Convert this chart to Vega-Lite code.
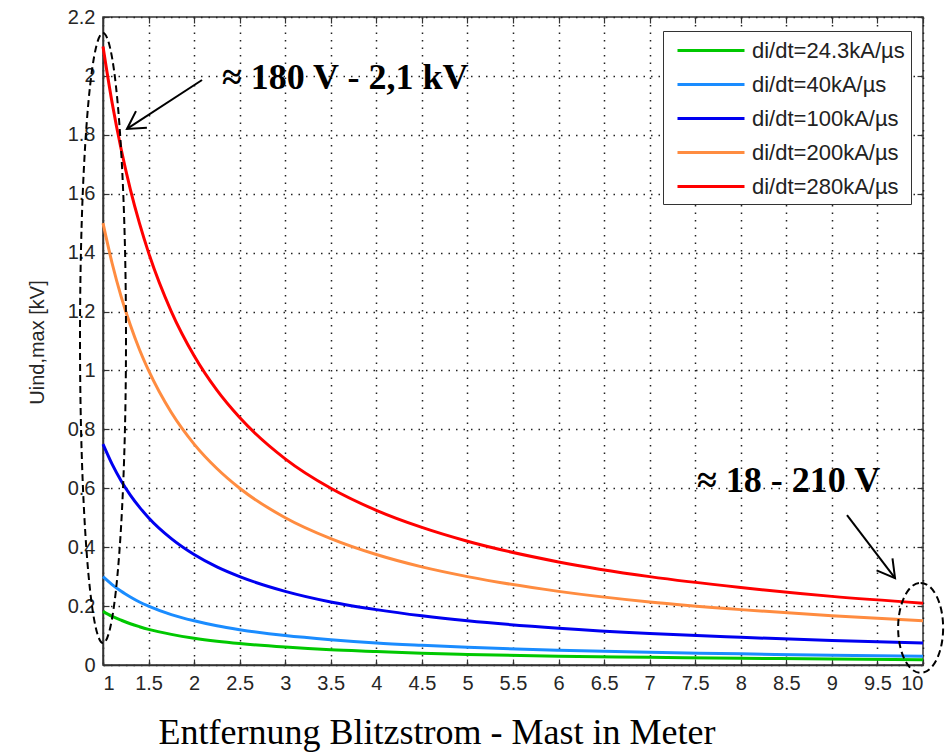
{
  "$schema": "https://vega.github.io/schema/vega-lite/v6.json",
  "width": 820,
  "height": 648,
  "autosize": {"type": "none"},
  "padding": {"left": 103, "top": 17, "right": 22, "bottom": 87},
  "background": "white",
  "config": {
    "view": {"stroke": "#333333", "strokeWidth": 1.5},
    "axis": {
      "domainColor": "#333333",
      "domainWidth": 1.5,
      "tickColor": "#333333",
      "tickWidth": 1.2,
      "tickSize": -6,
      "labelFont": "Liberation Sans",
      "labelFontSize": 20,
      "labelColor": "#262626",
      "gridColor": "#222222",
      "gridDash": [1.5, 6],
      "gridWidth": 1.5,
      "gridOpacity": 1
    },
    "legend": {
      "orient": "none",
      "legendX": 560,
      "legendY": 14,
      "symbolType": "M-0.417,0H5.167",
      "symbolSize": 576,
      "symbolStrokeWidth": 3,
      "labelFont": "Liberation Sans",
      "labelFontSize": 22,
      "labelColor": "#222222",
      "labelOffset": 56,
      "labelLimit": 400,
      "rowPadding": 9,
      "padding": 6,
      "strokeColor": "#333333",
      "fillColor": "white"
    }
  },
  "datasets": {
    "curves": [
      {"series": "di/dt=24.3kA/µs", "x": 1, "y": 0.182},
      {"series": "di/dt=24.3kA/µs", "x": 1.1, "y": 0.165},
      {"series": "di/dt=24.3kA/µs", "x": 1.2, "y": 0.152},
      {"series": "di/dt=24.3kA/µs", "x": 1.3, "y": 0.14},
      {"series": "di/dt=24.3kA/µs", "x": 1.4, "y": 0.13},
      {"series": "di/dt=24.3kA/µs", "x": 1.5, "y": 0.121},
      {"series": "di/dt=24.3kA/µs", "x": 1.75, "y": 0.104},
      {"series": "di/dt=24.3kA/µs", "x": 2, "y": 0.091},
      {"series": "di/dt=24.3kA/µs", "x": 2.25, "y": 0.081},
      {"series": "di/dt=24.3kA/µs", "x": 2.5, "y": 0.073},
      {"series": "di/dt=24.3kA/µs", "x": 3, "y": 0.061},
      {"series": "di/dt=24.3kA/µs", "x": 3.5, "y": 0.052},
      {"series": "di/dt=24.3kA/µs", "x": 4, "y": 0.046},
      {"series": "di/dt=24.3kA/µs", "x": 4.5, "y": 0.04},
      {"series": "di/dt=24.3kA/µs", "x": 5, "y": 0.036},
      {"series": "di/dt=24.3kA/µs", "x": 6, "y": 0.03},
      {"series": "di/dt=24.3kA/µs", "x": 7, "y": 0.026},
      {"series": "di/dt=24.3kA/µs", "x": 8, "y": 0.023},
      {"series": "di/dt=24.3kA/µs", "x": 9, "y": 0.02},
      {"series": "di/dt=24.3kA/µs", "x": 10, "y": 0.018},
      {"series": "di/dt=40kA/µs", "x": 1, "y": 0.3},
      {"series": "di/dt=40kA/µs", "x": 1.1, "y": 0.273},
      {"series": "di/dt=40kA/µs", "x": 1.2, "y": 0.25},
      {"series": "di/dt=40kA/µs", "x": 1.3, "y": 0.231},
      {"series": "di/dt=40kA/µs", "x": 1.4, "y": 0.214},
      {"series": "di/dt=40kA/µs", "x": 1.5, "y": 0.2},
      {"series": "di/dt=40kA/µs", "x": 1.75, "y": 0.171},
      {"series": "di/dt=40kA/µs", "x": 2, "y": 0.15},
      {"series": "di/dt=40kA/µs", "x": 2.25, "y": 0.133},
      {"series": "di/dt=40kA/µs", "x": 2.5, "y": 0.12},
      {"series": "di/dt=40kA/µs", "x": 3, "y": 0.1},
      {"series": "di/dt=40kA/µs", "x": 3.5, "y": 0.086},
      {"series": "di/dt=40kA/µs", "x": 4, "y": 0.075},
      {"series": "di/dt=40kA/µs", "x": 4.5, "y": 0.067},
      {"series": "di/dt=40kA/µs", "x": 5, "y": 0.06},
      {"series": "di/dt=40kA/µs", "x": 6, "y": 0.05},
      {"series": "di/dt=40kA/µs", "x": 7, "y": 0.043},
      {"series": "di/dt=40kA/µs", "x": 8, "y": 0.038},
      {"series": "di/dt=40kA/µs", "x": 9, "y": 0.033},
      {"series": "di/dt=40kA/µs", "x": 10, "y": 0.03},
      {"series": "di/dt=100kA/µs", "x": 1, "y": 0.75},
      {"series": "di/dt=100kA/µs", "x": 1.1, "y": 0.682},
      {"series": "di/dt=100kA/µs", "x": 1.2, "y": 0.625},
      {"series": "di/dt=100kA/µs", "x": 1.3, "y": 0.577},
      {"series": "di/dt=100kA/µs", "x": 1.4, "y": 0.536},
      {"series": "di/dt=100kA/µs", "x": 1.5, "y": 0.5},
      {"series": "di/dt=100kA/µs", "x": 1.75, "y": 0.429},
      {"series": "di/dt=100kA/µs", "x": 2, "y": 0.375},
      {"series": "di/dt=100kA/µs", "x": 2.25, "y": 0.333},
      {"series": "di/dt=100kA/µs", "x": 2.5, "y": 0.3},
      {"series": "di/dt=100kA/µs", "x": 3, "y": 0.25},
      {"series": "di/dt=100kA/µs", "x": 3.5, "y": 0.214},
      {"series": "di/dt=100kA/µs", "x": 4, "y": 0.188},
      {"series": "di/dt=100kA/µs", "x": 4.5, "y": 0.167},
      {"series": "di/dt=100kA/µs", "x": 5, "y": 0.15},
      {"series": "di/dt=100kA/µs", "x": 6, "y": 0.125},
      {"series": "di/dt=100kA/µs", "x": 7, "y": 0.107},
      {"series": "di/dt=100kA/µs", "x": 8, "y": 0.094},
      {"series": "di/dt=100kA/µs", "x": 9, "y": 0.083},
      {"series": "di/dt=100kA/µs", "x": 10, "y": 0.075},
      {"series": "di/dt=200kA/µs", "x": 1, "y": 1.5},
      {"series": "di/dt=200kA/µs", "x": 1.1, "y": 1.364},
      {"series": "di/dt=200kA/µs", "x": 1.2, "y": 1.25},
      {"series": "di/dt=200kA/µs", "x": 1.3, "y": 1.154},
      {"series": "di/dt=200kA/µs", "x": 1.4, "y": 1.071},
      {"series": "di/dt=200kA/µs", "x": 1.5, "y": 1.0},
      {"series": "di/dt=200kA/µs", "x": 1.75, "y": 0.857},
      {"series": "di/dt=200kA/µs", "x": 2, "y": 0.75},
      {"series": "di/dt=200kA/µs", "x": 2.25, "y": 0.667},
      {"series": "di/dt=200kA/µs", "x": 2.5, "y": 0.6},
      {"series": "di/dt=200kA/µs", "x": 3, "y": 0.5},
      {"series": "di/dt=200kA/µs", "x": 3.5, "y": 0.429},
      {"series": "di/dt=200kA/µs", "x": 4, "y": 0.375},
      {"series": "di/dt=200kA/µs", "x": 4.5, "y": 0.333},
      {"series": "di/dt=200kA/µs", "x": 5, "y": 0.3},
      {"series": "di/dt=200kA/µs", "x": 6, "y": 0.25},
      {"series": "di/dt=200kA/µs", "x": 7, "y": 0.214},
      {"series": "di/dt=200kA/µs", "x": 8, "y": 0.188},
      {"series": "di/dt=200kA/µs", "x": 9, "y": 0.167},
      {"series": "di/dt=200kA/µs", "x": 10, "y": 0.15},
      {"series": "di/dt=280kA/µs", "x": 1, "y": 2.1},
      {"series": "di/dt=280kA/µs", "x": 1.1, "y": 1.909},
      {"series": "di/dt=280kA/µs", "x": 1.2, "y": 1.75},
      {"series": "di/dt=280kA/µs", "x": 1.3, "y": 1.615},
      {"series": "di/dt=280kA/µs", "x": 1.4, "y": 1.5},
      {"series": "di/dt=280kA/µs", "x": 1.5, "y": 1.4},
      {"series": "di/dt=280kA/µs", "x": 1.75, "y": 1.2},
      {"series": "di/dt=280kA/µs", "x": 2, "y": 1.05},
      {"series": "di/dt=280kA/µs", "x": 2.25, "y": 0.933},
      {"series": "di/dt=280kA/µs", "x": 2.5, "y": 0.84},
      {"series": "di/dt=280kA/µs", "x": 3, "y": 0.7},
      {"series": "di/dt=280kA/µs", "x": 3.5, "y": 0.6},
      {"series": "di/dt=280kA/µs", "x": 4, "y": 0.525},
      {"series": "di/dt=280kA/µs", "x": 4.5, "y": 0.467},
      {"series": "di/dt=280kA/µs", "x": 5, "y": 0.42},
      {"series": "di/dt=280kA/µs", "x": 6, "y": 0.35},
      {"series": "di/dt=280kA/µs", "x": 7, "y": 0.3},
      {"series": "di/dt=280kA/µs", "x": 8, "y": 0.263},
      {"series": "di/dt=280kA/µs", "x": 9, "y": 0.233},
      {"series": "di/dt=280kA/µs", "x": 10, "y": 0.21}
    ],
    "arrows": [
      {"id": 1, "x": 2.087, "y": 1.986, "x2": 1.263, "y2": 1.82},
      {"id": 2, "x": 9.166, "y": 0.509, "x2": 9.693, "y2": 0.295}
    ],
    "notes": [
      {"x": 2.306, "y": 1.956, "label": "≈ 180 V - 2,1 kV"},
      {"x": 7.52, "y": 0.587, "label": "≈ 18 - 210 V"}
    ],
    "ellipseLeft": [{"x": 1, "y": 1.11}],
    "ellipseRight": [{"x": 9.974, "y": 0.126}]
  },
  "layer": [
    {
      "data": {"name": "curves"},
      "mark": {"type": "line", "strokeWidth": 3, "interpolate": "monotone"},
      "encoding": {
        "x": {
          "field": "x", "type": "quantitative",
          "scale": {"domain": [1, 10], "nice": false, "zero": false},
          "axis": {
            "orient": "bottom",
            "values": [1, 1.5, 2, 2.5, 3, 3.5, 4, 4.5, 5, 5.5, 6, 6.5, 7, 7.5, 8, 8.5, 9, 9.5, 10],
            "format": "~g",
            "grid": true,
            "ticks": false,
            "labelPadding": 8,
            "title": "Entfernung Blitzstrom - Mast in Meter",
            "titleFont": "Liberation Serif",
            "titleFontSize": 36,
            "titleFontWeight": "normal",
            "titleColor": "black",
            "titleAlign": "left",
            "titleBaseline": "alphabetic",
            "titleX": 55,
            "titleY": 78
          }
        },
        "y": {
          "field": "y", "type": "quantitative",
          "scale": {"domain": [0, 2.2], "nice": false, "zero": true},
          "axis": {
            "orient": "left",
            "values": [0, 0.2, 0.4, 0.6, 0.8, 1, 1.2, 1.4, 1.6, 1.8, 2, 2.2],
            "format": "~g",
            "grid": true,
            "ticks": false,
            "labelPadding": 8,
            "title": "Uind,max [kV]",
            "titleFont": "Liberation Sans",
            "titleFontSize": 20,
            "titleFontWeight": "normal",
            "titleColor": "#262626",
            "titleAngle": -90,
            "titleAlign": "center",
            "titleBaseline": "alphabetic",
            "titleX": -60,
            "titleY": 325
          }
        },
        "color": {
          "field": "series", "type": "nominal",
          "scale": {
            "domain": ["di/dt=24.3kA/µs", "di/dt=40kA/µs", "di/dt=100kA/µs", "di/dt=200kA/µs", "di/dt=280kA/µs"],
            "range": ["#00c800", "#1a8cff", "#0000f0", "#ff8c40", "#ff0000"]
          },
          "legend": {"title": null}
        }
      }
    },
    {
      "data": {"name": "ellipseLeft"},
      "mark": {
        "type": "point",
        "shape": "M0,-1C0.0416,-1 0.0754,-0.5523 0.0754,0C0.0754,0.5523 0.0416,1 0,1C-0.0416,1 -0.0754,0.5523 -0.0754,0C-0.0754,-0.5523 -0.0416,-1 0,-1Z",
        "size": 372100,
        "filled": false,
        "stroke": "black",
        "strokeWidth": 2,
        "strokeDash": [7, 4],
        "opacity": 1
      },
      "encoding": {
        "x": {
          "field": "x", "type": "quantitative",
          "axis": {"orient": "bottom", "labels": false, "grid": false, "domain": false, "title": null,
                   "values": [1, 1.5, 2, 2.5, 3, 3.5, 4, 4.5, 5, 5.5, 6, 6.5, 7, 7.5, 8, 8.5, 9, 9.5, 10]}
        },
        "y": {
          "field": "y", "type": "quantitative",
          "axis": {"orient": "left", "labels": false, "grid": false, "domain": false, "title": null,
                   "values": [0, 0.2, 0.4, 0.6, 0.8, 1, 1.2, 1.4, 1.6, 1.8, 2, 2.2]}
        }
      }
    },
    {
      "data": {"name": "ellipseRight"},
      "mark": {
        "type": "point",
        "shape": "M0,-1C0.2762,-1 0.5,-0.5523 0.5,0C0.5,0.5523 0.2762,1 0,1C-0.2762,1 -0.5,0.5523 -0.5,0C-0.5,-0.5523 -0.2762,-1 0,-1Z",
        "size": 8100,
        "filled": false,
        "stroke": "black",
        "strokeWidth": 2,
        "strokeDash": [7, 4],
        "opacity": 1
      },
      "encoding": {
        "x": {"field": "x", "type": "quantitative", "axis": null},
        "y": {"field": "y", "type": "quantitative", "axis": null}
      }
    },
    {
      "data": {"name": "arrows"},
      "mark": {"type": "rule", "strokeWidth": 2, "color": "black"},
      "encoding": {
        "x": {"field": "x", "type": "quantitative", "axis": null},
        "y": {"field": "y", "type": "quantitative", "axis": null},
        "x2": {"field": "x2"},
        "y2": {"field": "y2"}
      }
    },
    {
      "data": {"name": "arrows"},
      "transform": [{"filter": "datum.id == 1"}],
      "mark": {"type": "point", "shape": "M-1,-0.577L0,0L-1,0.577", "size": 1200, "angle": 146.8, "filled": false, "stroke": "black", "strokeWidth": 2, "opacity": 1},
      "encoding": {
        "x": {"field": "x2", "type": "quantitative", "axis": null},
        "y": {"field": "y2", "type": "quantitative", "axis": null}
      }
    },
    {
      "data": {"name": "arrows"},
      "transform": [{"filter": "datum.id == 2"}],
      "mark": {"type": "point", "shape": "M-1,-0.577L0,0L-1,0.577", "size": 1200, "angle": 52.7, "filled": false, "stroke": "black", "strokeWidth": 2, "opacity": 1},
      "encoding": {
        "x": {"field": "x2", "type": "quantitative", "axis": null},
        "y": {"field": "y2", "type": "quantitative", "axis": null}
      }
    },
    {
      "data": {"name": "notes"},
      "mark": {"type": "text", "font": "Liberation Serif", "fontWeight": "bold", "fontSize": 36, "align": "left", "baseline": "alphabetic", "color": "black"},
      "encoding": {
        "x": {
          "field": "x", "type": "quantitative",
          "axis": {"orient": "top", "labels": false, "grid": false, "domain": false, "title": null,
                   "values": [1, 1.5, 2, 2.5, 3, 3.5, 4, 4.5, 5, 5.5, 6, 6.5, 7, 7.5, 8, 8.5, 9, 9.5, 10]}
        },
        "y": {
          "field": "y", "type": "quantitative",
          "axis": {"orient": "right", "labels": false, "grid": false, "domain": false, "title": null,
                   "values": [0, 0.2, 0.4, 0.6, 0.8, 1, 1.2, 1.4, 1.6, 1.8, 2, 2.2]}
        },
        "text": {"field": "label"}
      }
    }
  ],
  "resolve": {"axis": {"x": "independent", "y": "independent"}}
}
